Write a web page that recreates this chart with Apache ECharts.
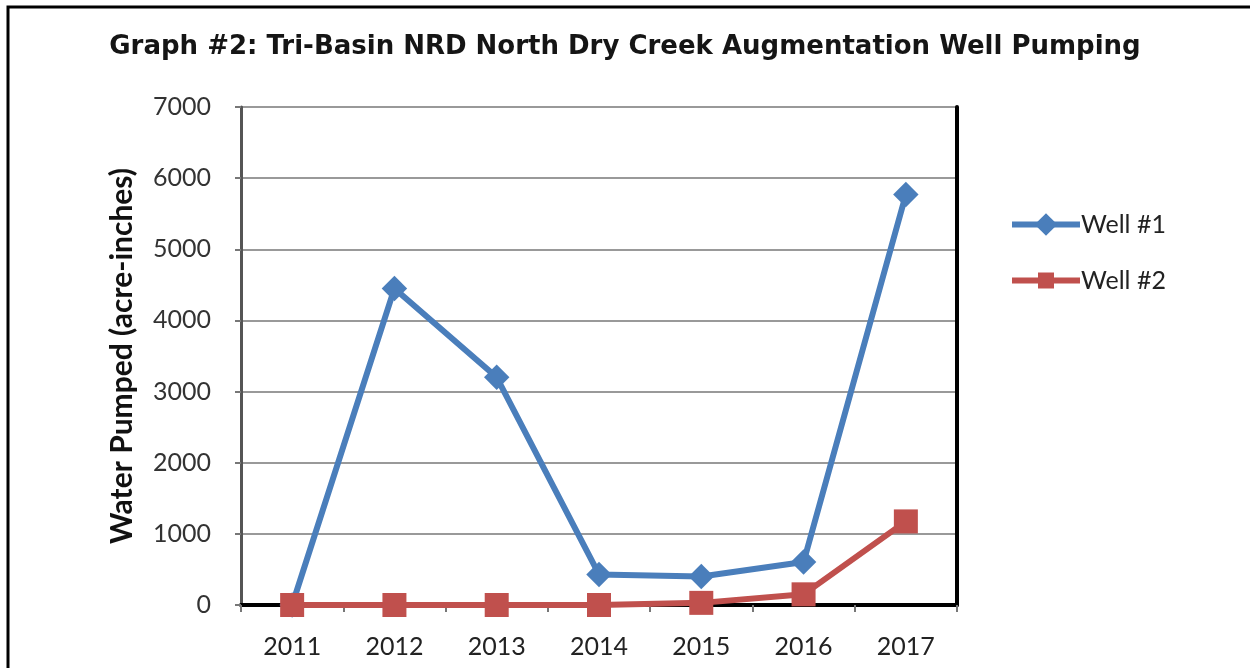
<!DOCTYPE html>
<html lang="en">
<head>
    <meta charset="UTF-8">
    <title>Graph #2</title>
    <script src="https://cdn.jsdelivr.net/npm/echarts@6/dist/echarts.min.js"></script>
    <style>
        body { margin: 0; background: #fff; }
        #main { width: 1250px; height: 668px; }
    </style>
</head>
<body>
<div id="main"></div>
<script>
    var years = ['2011', '2012', '2013', '2014', '2015', '2016', '2017'];
    var well1 = [0, 4450, 3200, 430, 400, 605, 5770];
    var well2 = [0, 0, 0, 0, 30, 150, 1175];
    var yTicks = [0, 1000, 2000, 3000, 4000, 5000, 6000, 7000];

    var labelFont = 'Lato, "Open Sans", sans-serif';
    var myChart = echarts.init(document.getElementById('main'));

    var option = {
        animation: false,
        title: {
            text: 'Graph #2: Tri-Basin NRD North Dry Creek Augmentation Well Pumping',
            left: 'center',
            top: 29,
            textStyle: {
                fontFamily: 'DejaVu Sans, sans-serif',
                fontSize: 26,
                fontWeight: 'bold',
                color: '#151515'
            }
        },
        graphic: [{
            type: 'rect',
            shape: { x: 8, y: 7, width: 1270, height: 700 },
            style: { fill: 'none', stroke: '#000', lineWidth: 3 },
            silent: true
        }],
        legend: {
            orient: 'vertical',
            left: 1004,
            top: 207,
            itemWidth: 68,
            itemHeight: 20,
            itemGap: 31,
            lineStyle: { width: 6 },
            textStyle: { fontFamily: labelFont, fontSize: 25, color: '#222', padding: [0, 0, 0, -4] },
            data: ['Well #1', 'Well #2']
        },
        grid: { left: 241, top: 107, right: 293, bottom: 63 },
        xAxis: [{
            type: 'category',
            data: years,
            boundaryGap: true,
            axisLine: { lineStyle: { color: '#555', width: 3 } },
            axisTick: { show: true, length: 7, interval: 0, lineStyle: { color: '#777', width: 2 } },
            axisLabel: { fontFamily: labelFont, fontSize: 25, color: '#222', margin: 29 }
        }, {
            type: 'category',
            data: years,
            position: 'top',
            axisLine: { lineStyle: { color: '#000', width: 4 } },
            axisTick: { show: false },
            axisLabel: { show: false }
        }],
        yAxis: [{
            type: 'value',
            min: yTicks[0],
            max: yTicks[yTicks.length - 1],
            interval: 1000,
            name: 'Water Pumped (acre-inches)',
            nameLocation: 'middle',
            nameGap: 104,
            nameTextStyle: { fontFamily: labelFont, fontSize: 30, fontWeight: 'bold', color: '#111' },
            axisLine: { show: true, lineStyle: { color: '#555', width: 3 } },
            axisTick: { show: true, length: 6, lineStyle: { color: '#777', width: 2 } },
            axisLabel: {
                fontFamily: labelFont, fontSize: 25, color: '#333', margin: 30,
                formatter: function (v) { return String(v); }
            },
            splitLine: { lineStyle: { color: '#999', width: 2 } }
        }, {
            type: 'value',
            min: yTicks[0],
            max: yTicks[yTicks.length - 1],
            interval: 1000,
            position: 'right',
            axisLine: { show: true, lineStyle: { color: '#000', width: 4 } },
            axisTick: { show: false },
            axisLabel: { show: false },
            splitLine: { show: false }
        }],
        series: [{
            name: 'Well #1',
            type: 'line',
            data: well1,
            symbol: 'rect',
            symbolSize: 18,
            symbolRotate: 45,
            itemStyle: { color: '#4a7ebb' },
            lineStyle: { color: '#4a7ebb', width: 6 },
            z: 3
        }, {
            name: 'Well #2',
            type: 'line',
            data: well2,
            symbol: 'rect',
            symbolSize: 24,
            itemStyle: { color: '#c0504d' },
            lineStyle: { color: '#c0504d', width: 6 },
            z: 4
        }]
    };

    myChart.setOption(option);
</script>
</body>
</html>
